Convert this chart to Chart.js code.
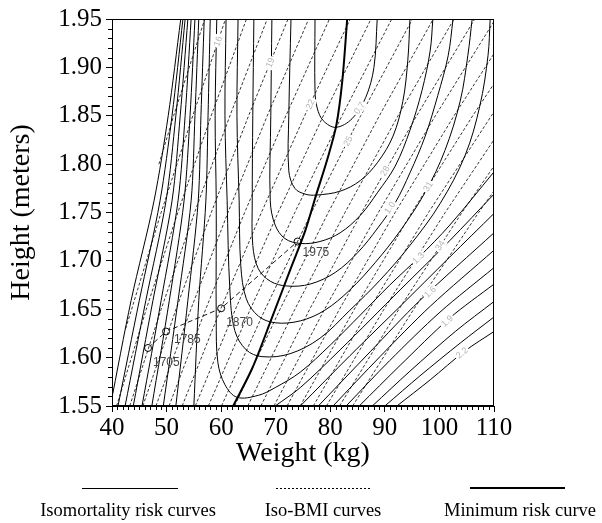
<!DOCTYPE html>
<html>
<head>
<meta charset="utf-8">
<script src="https://cdn.jsdelivr.net/npm/chart.js@4.4.0/dist/chart.umd.min.js"></script>
<style>
html, body { margin: 0; padding: 0; background: #fff; }
#wrap { position: relative; width: 602px; height: 523px; }
#chart { position: absolute; left: 0; top: 0; }
#legendLines { position: absolute; left: 0; top: 0; }
.legend { position: absolute; top: 500px; font-family: "Liberation Serif", serif; font-size: 18.5px; color: #000; white-space: nowrap; transform: translateX(-50%); }
</style>
</head>
<body>
<div id="wrap">
  <canvas id="chart" width="602" height="523"></canvas>
  <svg id="legendLines" width="602" height="523">
    <line x1="82" y1="488.5" x2="178" y2="488.5" stroke="#000" stroke-width="1"/>
    <line x1="276" y1="488.5" x2="370" y2="488.5" stroke="#000" stroke-width="1" stroke-dasharray="2,2"/>
    <line x1="470" y1="488" x2="565" y2="488" stroke="#000" stroke-width="2"/>
  </svg>
  <div class="legend" style="left:128px">Isomortality risk curves</div>
  <div class="legend" style="left:323px">Iso-BMI curves</div>
  <div class="legend" style="left:520px">Minimum risk curve</div>
</div>
<script>
// axis ticks
const weightTicks = [40, 50, 60, 70, 80, 90, 100, 110];
const heightTicks = [1.55, 1.60, 1.65, 1.70, 1.75, 1.80, 1.85, 1.90, 1.95];

// minimum risk curve (weight kg, height m)
const minRiskWeights = [62.2, 65.7, 69.3, 72.6, 75.4, 77.4, 79.4, 81.1, 82.2, 83.1];
const minRiskHeights = [1.550, 1.589, 1.641, 1.690, 1.731, 1.768, 1.804, 1.840, 1.886, 1.950];

// closed (U shaped) isomortality curves, inner to outer: [weight, height]
const riskCurves = [
  [[77.2,1.950],[77.2,1.876],[77.6,1.858],[78.7,1.845],[81.0,1.838],[84.0,1.847],[86.5,1.869],[88.0,1.900],[88.6,1.950]],
  [[72.8,1.950],[72.4,1.850],[72.4,1.793],[73.5,1.775],[75.4,1.769],[77.4,1.768],[81.8,1.772],[85.5,1.783],[88.7,1.802],[91.5,1.829],[93.3,1.865],[94.2,1.907],[94.6,1.950]],
  [[69.3,1.950],[69.1,1.850],[69.0,1.762],[69.9,1.737],[71.7,1.723],[74.5,1.718],[78.1,1.720],[81.8,1.729],[85.5,1.747],[88.7,1.771],[91.9,1.798],[94.6,1.835],[96.8,1.876],[98.3,1.917],[98.8,1.950]],
  [[66.0,1.950],[65.8,1.850],[65.7,1.762],[65.8,1.716],[66.8,1.692],[69.0,1.679],[72.1,1.674],[76.3,1.676],[80.9,1.688],[85.1,1.709],[88.7,1.734],[91.9,1.760],[94.6,1.791],[97.4,1.829],[99.7,1.871],[101.6,1.912],[102.5,1.950]],
  [[63.1,1.950],[62.9,1.850],[63.3,1.762],[63.6,1.695],[64.6,1.661],[66.8,1.643],[69.9,1.636],[74.5,1.638],[79.0,1.649],[83.6,1.670],[88.2,1.698],[92.8,1.731],[97.4,1.771],[101.0,1.814],[103.8,1.865],[105.2,1.912],[106.0,1.950]],
  [[60.9,1.950],[60.7,1.850],[61.1,1.762],[61.6,1.670],[62.5,1.628],[64.6,1.608],[67.5,1.601],[72.6,1.604],[78.1,1.620],[83.6,1.649],[89.1,1.680],[94.6,1.716],[100.1,1.759],[104.7,1.809],[107.4,1.860],[108.9,1.912],[109.3,1.950]],
  [[59.2,1.950],[58.9,1.850],[59.1,1.762],[59.1,1.639],[59.4,1.595],[60.7,1.572],[62.9,1.559],[66.8,1.561],[69.9,1.569],[74.5,1.585],[80.0,1.613],[85.5,1.644],[90.9,1.675],[96.1,1.703],[101.9,1.737],[110.0,1.792]]
];

// outer curves whose bottom lies below the plot: left arm weights at armHeights
const armHeights = [1.95, 1.85, 1.762, 1.659, 1.55];
const leftArmWeights = [
  [58.0, 57.6, 57.2, 55.9, 55.0],
  [56.9, 56.3, 55.8, 53.9, 51.7],
  [55.9, 55.2, 54.5, 52.1, 49.4],
  [55.2, 54.3, 53.2, 50.5, 47.3],
  [54.5, 53.4, 52.1, 49.0, 45.5],
  [53.9, 52.5, 51.0, 47.5, 43.9],
  [53.4, 51.7, 49.9, 46.2, 42.4],
  [53.0, 51.0, 48.8, 45.0, 41.1],
  [52.6, 50.3, 47.7, 43.5, 39.7]
];
// ... and their right arms: [weight, height]
const rightArms = [
  [[69.9,1.550],[74.5,1.569],[81.8,1.608],[92.8,1.670],[101.9,1.721],[110,1.769]],
  [[74.5,1.550],[83.6,1.602],[92.8,1.653],[101.9,1.704],[110,1.749]],
  [[77.8,1.550],[87.3,1.606],[96.4,1.659],[110,1.729]],
  [[80.5,1.550],[89.1,1.601],[98.3,1.653],[110,1.711]],
  [[82.9,1.550],[90.9,1.597],[100.1,1.647],[110,1.693]],
  [[85.3,1.550],[92.8,1.592],[101.9,1.641],[110,1.676]],
  [[87.7,1.550],[94.6,1.586],[102.9,1.627],[110,1.658]],
  [[90.0,1.550],[96.4,1.581],[103.8,1.615],[110,1.642]],
  [[92.2,1.550],[98.3,1.577],[104.7,1.607],[110,1.627]]
];

// iso-BMI curves, BMI 15..35: [weight, height]
const bmiLines = [
  [[48.6,1.80],[51.3,1.85],[57.0,1.95]],
  [[42.5,1.63],[43.6,1.65],[49.0,1.75],[54.8,1.85],[60.8,1.95]],
  [[40.84,1.55],[46.28,1.65],[52.06,1.75],[58.18,1.85],[64.64,1.95]],
  [[43.25,1.55],[49.01,1.65],[55.13,1.75],[61.61,1.85],[68.45,1.95]],
  [[45.65,1.55],[51.73,1.65],[58.19,1.75],[65.03,1.85],[72.25,1.95]],
  [[48.05,1.55],[54.45,1.65],[61.25,1.75],[68.45,1.85],[76.05,1.95]],
  [[50.45,1.55],[57.17,1.65],[64.31,1.75],[71.87,1.85],[79.85,1.95]],
  [[52.86,1.55],[59.90,1.65],[67.38,1.75],[75.30,1.85],[83.66,1.95]],
  [[55.26,1.55],[62.62,1.65],[70.44,1.75],[78.72,1.85],[87.46,1.95]],
  [[57.66,1.55],[65.34,1.65],[73.50,1.75],[82.14,1.85],[91.26,1.95]],
  [[60.06,1.55],[68.06,1.65],[76.56,1.75],[85.56,1.85],[95.06,1.95]],
  [[62.47,1.55],[70.79,1.65],[79.63,1.75],[88.99,1.85],[98.87,1.95]],
  [[64.87,1.55],[73.51,1.65],[82.69,1.75],[92.41,1.85],[102.67,1.95]],
  [[67.27,1.55],[76.23,1.65],[85.75,1.75],[95.83,1.85],[106.47,1.95]],
  [[69.67,1.55],[78.95,1.65],[88.81,1.75],[99.25,1.85],[110.27,1.95]],
  [[72.08,1.55],[81.68,1.65],[91.88,1.75],[102.68,1.85],[114.08,1.95]],
  [[74.48,1.55],[84.40,1.65],[94.94,1.75],[106.10,1.85],[117.88,1.95]],
  [[76.88,1.55],[87.12,1.65],[98.00,1.75],[109.52,1.85],[121.68,1.95]],
  [[79.28,1.55],[89.84,1.65],[101.06,1.75],[112.94,1.85],[125.48,1.95]],
  [[81.69,1.55],[92.57,1.65],[104.13,1.75],[116.37,1.85],[129.29,1.95]],
  [[84.09,1.55],[95.29,1.65],[107.19,1.75],[119.79,1.85],[133.09,1.95]]
];

// French adult males by period
const years = ['1705', '1785', '1870', '1975'];
const yearWeights = [46.6, 49.9, 60.0, 74.0];
const yearHeights = [1.610, 1.627, 1.651, 1.720];

// gray curve labels
const riskLabels = ['0.7', '1.0', '1.3', '1.6', '1.9', '2.2'];
const riskLabelWeights = [85.3, 90.9, 96.1, 98.3, 101.4, 104.1];
const riskLabelHeights = [1.858, 1.755, 1.703, 1.668, 1.638, 1.605];
const bmiLabels = ['16', '19', '22', '25', '28', '31', '34'];
const bmiLabelWeights = [59.4, 68.95, 76.3, 83.2, 90.0, 97.9, 100.1];
const bmiLabelHeights = [1.927, 1.905, 1.862, 1.824, 1.793, 1.777, 1.716];

// label styling (angles in degrees, text offsets in px)
const riskLabelAngles = [56, 57, 45, 43, 43, 40];
const bmiLabelAngles = [71, 68, 65, 63, 61, 58, 57];
const yearLabelOffsets = [[5, 15], [8, 8], [5, 14], [5, 11]];

const serif = '"Liberation Serif", "Times New Roman", serif';
const sans = '"Liberation Sans", Arial, sans-serif';
const pairs = list => list.map(([x, y]) => ({x, y}));

const datasets = [];
datasets.push({
    data: minRiskWeights.map((w, i) => ({x: w, y: minRiskHeights[i]})),
    borderColor: '#000', borderWidth: 2, tension: 0.3
});
riskCurves.forEach(c => datasets.push({data: pairs(c), borderColor: '#000', borderWidth: 1, tension: 0.35}));
leftArmWeights.forEach(ws => datasets.push({
    data: ws.map((w, i) => ({x: w, y: armHeights[i]})),
    borderColor: '#000', borderWidth: 1, tension: 0.3
}));
rightArms.forEach(c => datasets.push({data: pairs(c), borderColor: '#000', borderWidth: 1, tension: 0.3}));
bmiLines.forEach(c => datasets.push({
    data: pairs(c), borderColor: '#000', borderWidth: 0.8, borderDash: [3, 2], tension: 0
}));
datasets.push({
    data: yearWeights.map((w, i) => ({x: w, y: yearHeights[i]})),
    borderColor: '#000', borderWidth: 0.9, borderDash: [5, 3], tension: 0,
    pointRadius: 3.5, pointBorderColor: '#000', pointBackgroundColor: '#fff', pointBorderWidth: 1
});
datasets.forEach(d => {
    d.showLine = true;
    d.fill = false;
    if (d.pointRadius === undefined) d.pointRadius = 0;
});

const frameAndMinorTicks = {
    id: 'frameAndMinorTicks',
    afterDraw(chart) {
        const {ctx, chartArea: a, scales: {x, y}} = chart;
        ctx.save();
        ctx.strokeStyle = '#000';
        ctx.lineWidth = 1;
        ctx.beginPath();
        for (let w = 41; w < 110; w++) {
            if (w % 10 === 0) continue;
            const px = Math.round(x.getPixelForValue(w)) + 0.5;
            ctx.moveTo(px, a.bottom);
            ctx.lineTo(px, a.bottom + 4);
        }
        for (let i = 1; i < 40; i++) {
            if (i % 5 === 0) continue;
            const py = Math.round(y.getPixelForValue(1.55 + i * 0.01)) + 0.5;
            ctx.moveTo(a.left - 4, py);
            ctx.lineTo(a.left, py);
        }
        ctx.stroke();
        ctx.strokeRect(Math.round(a.left) + 0.5, Math.round(a.top) + 0.5,
            Math.round(a.right - a.left) - 1, Math.round(a.bottom - a.top) - 1);
        ctx.restore();
    }
};

const curveLabels = {
    id: 'curveLabels',
    afterDatasetsDraw(chart) {
        const {ctx, chartArea: a, scales: {x, y}} = chart;
        ctx.save();
        ctx.beginPath();
        ctx.rect(a.left, a.top, a.right - a.left, a.bottom - a.top);
        ctx.clip();
        const put = (text, w, h, angle) => {
            const px = x.getPixelForValue(w), py = y.getPixelForValue(h);
            ctx.save();
            ctx.translate(px, py);
            ctx.rotate(-angle * Math.PI / 180);
            ctx.font = '9px ' + sans;
            ctx.textAlign = 'center';
            ctx.textBaseline = 'middle';
            const tw = ctx.measureText(text).width;
            ctx.fillStyle = '#fff';
            ctx.fillRect(-tw / 2 - 1.5, -5, tw + 3, 10);
            ctx.fillStyle = '#b4b4b4';
            ctx.fillText(text, 0, 0.5);
            ctx.restore();
        };
        riskLabels.forEach((t, i) => put(t, riskLabelWeights[i], riskLabelHeights[i], riskLabelAngles[i]));
        bmiLabels.forEach((t, i) => put(t, bmiLabelWeights[i], bmiLabelHeights[i], bmiLabelAngles[i]));

        ctx.font = '12px ' + sans;
        ctx.textAlign = 'left';
        ctx.textBaseline = 'middle';
        ctx.fillStyle = '#444';
        years.forEach((t, i) => {
            const px = x.getPixelForValue(yearWeights[i]), py = y.getPixelForValue(yearHeights[i]);
            ctx.fillText(t, px + yearLabelOffsets[i][0], py + yearLabelOffsets[i][1]);
        });
        ctx.restore();
    }
};

new Chart(document.getElementById('chart').getContext('2d'), {
    type: 'scatter',
    data: {datasets},
    options: {
        responsive: false,
        animation: false,
        events: [],
        layout: {padding: {left: 0, right: 108, top: 18, bottom: 45}},
        plugins: {legend: {display: false}, tooltip: {enabled: false}},
        scales: {
            x: {
                type: 'linear',
                min: weightTicks[0],
                max: weightTicks[weightTicks.length - 1],
                afterFit: s => { s.height = 72; },
                afterBuildTicks: s => { s.ticks = weightTicks.map(v => ({value: v})); },
                ticks: {font: {family: serif, size: 25}, color: '#000', padding: 1, maxRotation: 0},
                grid: {drawOnChartArea: false, tickLength: 6, tickColor: '#000'},
                border: {color: '#000', width: 1},
                title: {display: true, text: 'Weight (kg)', color: '#000',
                    font: {family: serif, size: 28}, padding: {top: 0, bottom: 8}}
            },
            y: {
                type: 'linear',
                min: heightTicks[0],
                max: heightTicks[heightTicks.length - 1],
                afterFit: s => { s.width = 112; },
                afterBuildTicks: s => { s.ticks = heightTicks.map(v => ({value: v})); },
                ticks: {font: {family: serif, size: 25}, color: '#000', padding: 4,
                    callback: v => Number(v).toFixed(2)},
                grid: {drawOnChartArea: false, tickLength: 6, tickColor: '#000'},
                border: {color: '#000', width: 1},
                title: {display: true, text: 'Height (meters)', color: '#000',
                    font: {family: serif, size: 28}, padding: {top: 5, bottom: 0}}
            }
        }
    },
    plugins: [frameAndMinorTicks, curveLabels]
});
</script>
</body>
</html>
